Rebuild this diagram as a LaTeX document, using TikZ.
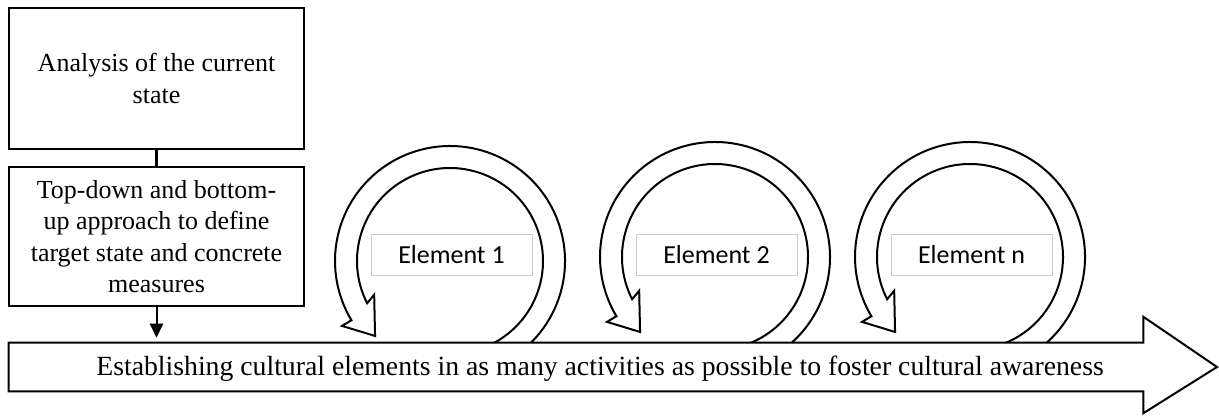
\documentclass[tikz,border=0pt]{standalone}
\usepackage{fontspec}
\setmainfont{Liberation Serif}
\newfontfamily\calibri{Carlito}
\usetikzlibrary{arrows.meta}

\begin{document}
\begin{tikzpicture}
[
    x=0.75pt, y=0.75pt,
    stepbox/.style={draw, line width=2pt, align=center, minimum width=221.25pt, font=\fontsize{19.5}{23.5}\selectfont},
    elembox/.style={draw=black!20, line width=0.6pt, fill=white, minimum width=120.75pt, minimum height=30.75pt, font=\calibri\fontsize{19.5}{23.5}\selectfont},
    loop/.style={draw, line width=1.5pt, fill=white, line join=miter},
]
\useasboundingbox (0,0) rectangle (1219,415);
\node [stepbox, minimum height=105.75pt] (analysis) at (156.5,336.5) {Analysis of the current\\state};
\node [stepbox, minimum height=104.25pt] (approach) at (156.5,178.5) {Top-down and bottom-\\up approach to define\\target state and concrete\\measures};
\draw [line width=2pt] (analysis) -- (approach);
\foreach \cx/\cy/\nm/\lbl in {450/154/e1/Element 1, 715/158/e2/Element 2, 970/158/en/Element n}
{
    \coordinate (\nm c) at (\cx,\cy);
    \path [loop] ([shift={(-75:86.25pt)}]\nm c) arc[start angle=-75, end angle=211, radius=86.25pt]
        -- ([shift={(211:94.5pt)}]\nm c) -- ([shift={(225:79.5pt)}]\nm c)
        -- ([shift={(204:62.25pt)}]\nm c) -- ([shift={(207:69.75pt)}]\nm c)
        arc[start angle=207, end angle=-75, radius=69.75pt] -- cycle;
    \node [elembox] (\nm) at (\cx+1.5,160.5) {\lbl};
}
\node [minimum width=850.5pt, minimum height=36pt, inner sep=0pt] (shaft) at (576,48) {};
\draw [line width=1.5pt, fill=white] (shaft.north west) -- (shaft.north east) -- ++(0,26)
    -- (1217,48) -- ([yshift=-16.5pt]shaft.south east) -- (shaft.south east) -- (shaft.south west) -- cycle;
\node [font=\fontsize{20.8}{25}\selectfont] (awareness) at (600,46) {Establishing cultural elements in as many activities as possible to foster cultural awareness};
\draw [line width=1.5pt, -{Triangle[width=9.75pt, length=10.5pt]}, shorten >=3.75pt] (approach) -- (approach |- shaft.north);
\end{tikzpicture}
\end{document}
